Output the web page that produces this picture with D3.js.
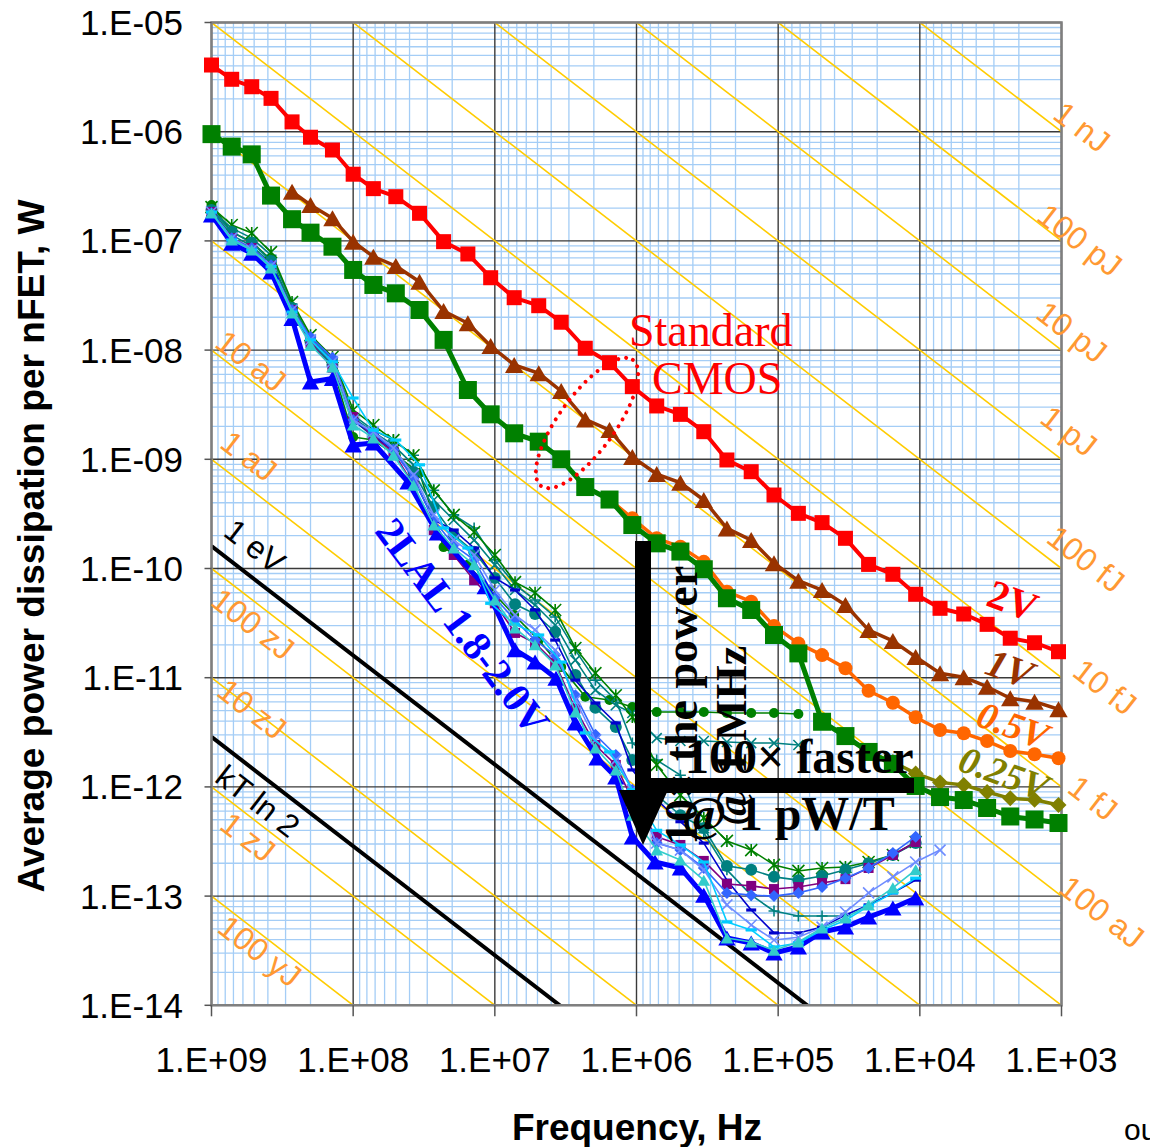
<!DOCTYPE html>
<html><head><meta charset="utf-8">
<script src="https://cdn.jsdelivr.net/npm/d3@7"></script>
<style>body{margin:0;background:#fff} svg{display:block}</style>
</head><body>
<svg id="chart" width="1150" height="1147"></svg>
<script>
// ---------------- DATA ----------------
const xTickValues = [1e9,1e8,1e7,1e6,1e5,1e4,1e3];
const xTickLabels = ["1.E+09","1.E+08","1.E+07","1.E+06","1.E+05","1.E+04","1.E+03"];
const yTickValues = [1e-5,1e-6,1e-7,1e-8,1e-9,1e-10,1e-11,1e-12,1e-13,1e-14];
const yTickLabels = ["1.E-05","1.E-06","1.E-07","1.E-08","1.E-09","1.E-10","1.E-11","1.E-12","1.E-13","1.E-14"];

// constant-energy guide lines (J)
const energyLines = [1e-22,1e-21,1e-20,1e-19,1e-18,1e-17,1e-16,1e-15,1e-14,1e-13,1e-12,1e-11,1e-10,1e-9,1e-8];
const energyLabelsRight = ["1 nJ","100 pJ","10 pJ","1 pJ","100 fJ","10 fJ","1 fJ","100 aJ"];
const energyLabelsLeft = ["10 aJ","1 aJ","100 zJ","10 zJ","1 zJ","100 yJ"];
const limitLines = [1.602e-19, 2.87e-21]; // 1 eV, kT ln 2
const limitLabels = ["1 eV","kT ln 2"];

// Standard CMOS frequencies (Hz)
const freqCMOS = [1e9,7.2e8,5.2e8,3.8e8,2.7e8,2e8,1.4e8,1e8,7.2e7,5e7,3.4e7,2.3e7,1.55e7,1.07e7,7.3e6,4.9e6,3.4e6,2.3e6,1.55e6,1.07e6,7.2e5,4.9e5,3.35e5,2.3e5,1.55e5,1.07e5,7.2e4,4.9e4,3.35e4,2.3e4,1.55e4,1.07e4,7.2e3,4.9e3,3.35e3,2.3e3,1.55e3,1.05e3];
const cmos2V = [4.08e-6,3.02e-6,2.58e-6,2.02e-6,1.23e-6,8.9e-7,6.8e-7,4.08e-7,3.01e-7,2.54e-7,1.79e-7,9.84e-8,7.59e-8,4.6e-8,3.02e-8,2.55e-8,1.8e-8,1.04e-8,7.67e-9,4.63e-9,3.08e-9,2.58e-9,1.79e-9,9.86e-10,7.7e-10,4.71e-10,3.2e-10,2.63e-10,1.89e-10,1.09e-10,8.85e-11,5.81e-11,4.32e-11,3.83e-11,3.08e-11,2.3e-11,2.09e-11,1.73e-11];
const cmos1V = [null,null,null,null,2.82e-7,2.13e-7,1.61e-7,9.84e-8,7.17e-8,5.89e-8,4.23e-8,2.28e-8,1.76e-8,1.09e-8,7.31e-9,6.14e-9,4.22e-9,2.32e-9,1.85e-9,1.05e-9,7.33e-10,6.1e-10,4.24e-10,2.33e-10,1.82e-10,1.12e-10,7.73e-11,6.35e-11,4.63e-11,2.73e-11,2.17e-11,1.55e-11,1.1e-11,1.01e-11,8.27e-12,6.48e-12,6.03e-12,5.14e-12];
const cmos05V = [null,null,null,null,null,null,null,null,null,null,null,null,null,null,null,null,null,null,4.3e-10,2.88e-10,1.89e-10,1.58e-10,1.15e-10,6.13e-11,4.97e-11,2.97e-11,2.06e-11,1.61e-11,1.22e-11,7.6e-12,5.9e-12,4.34e-12,3.32e-12,3.1e-12,2.63e-12,2.13e-12,1.99e-12,1.83e-12];
const cmos025V = [null,null,null,null,null,null,null,null,null,null,null,null,null,null,null,null,null,null,null,null,null,null,null,null,null,null,null,3.94e-12,2.92e-12,2.1e-12,1.69e-12,1.33e-12,1.1e-12,1.04e-12,8.97e-13,7.86e-13,7.63e-13,6.83e-13];
const cmosGreen = [9.5e-7,7.3e-7,6.2e-7,2.6e-7,1.58e-7,1.19e-7,8.85e-8,5.42e-8,3.95e-8,3.31e-8,2.33e-8,1.24e-8,4.31e-9,2.58e-9,1.73e-9,1.45e-9,1.0e-9,5.57e-10,4.28e-10,2.5e-10,1.7e-10,1.43e-10,9.84e-11,5.34e-11,4.17e-11,2.46e-11,1.67e-11,3.95e-12,2.92e-12,2.09e-12,1.62e-12,1.02e-12,8.07e-13,7.58e-13,6.41e-13,5.36e-13,5.03e-13,4.67e-13];

// 2LAL series
const freqLALBlue = [1e9,7.2e8,5.2e8,3.8e8,2.7e8,2e8,1.4e8,1e8,7.2e7,4.1e7,2.55e7,1.17e7,7.2e6,5.2e6,3.7e6,2.7e6,1.9e6,1.4e6,1.07e6,7.4e5,4.9e5,3.35e5,2.3e5,1.55e5,1.07e5,7.2e4,4.9e4,3.35e4,2.3e4,1.55e4,1.07e4];
const lalBlueTri = [1.73e-7,9.5e-8,7.7e-8,5.2e-8,1.95e-8,5.1e-9,5.5e-9,1.35e-9,1.41e-9,6.2e-10,2.11e-10,6.8e-11,1.8e-11,1.39e-11,9.9e-12,3.85e-12,1.84e-12,1.23e-12,3.48e-13,2.05e-13,1.81e-13,1.02e-13,4.13e-14,3.72e-14,3.01e-14,3.42e-14,4.69e-14,5.21e-14,6.43e-14,7.78e-14,9.6e-14];
const freqLAL = [1e9,7.2e8,5.2e8,3.8e8,2.7e8,2e8,1.4e8,1e8,7.2e7,5.2e7,3.75e7,2.7e7,1.95e7,1.4e7,1e7,7.2e6,5.2e6,3.75e6,2.7e6,1.95e6,1.4e6,1.07e6,7.2e5,4.9e5,3.35e5,2.3e5,1.55e5,1.07e5,7.2e4,4.9e4,3.35e4,2.3e4,1.55e4,1.07e4,7.2e3];
const lalStar = [2.04e-7,1.4e-7,1.18e-7,7.9e-8,2.76e-8,1.37e-8,8.65e-9,2.83e-9,2.06e-9,1.5e-9,1.09e-9,5.2e-10,3.1e-10,2.16e-10,1.33e-10,7.5e-11,6.0e-11,4.17e-11,1.87e-11,1.1e-11,6.9e-12,4.37e-12,1.59e-12,8.4e-13,5.2e-13,3.2e-13,2.64e-13,1.93e-13,1.7e-13,1.81e-13,1.85e-13,2.05e-13,2.38e-13,3.13e-13,null];
const lalTealCircle = [1.92e-7,1.21e-7,9.6e-8,6.55e-8,2.43e-8,1.19e-8,7.3e-9,2.29e-9,1.6e-9,1.22e-9,7.65e-10,3.6e-10,2.03e-10,1.42e-10,8.2e-11,4.7e-11,3.83e-11,2.62e-11,1.06e-11,5.3e-12,3.54e-12,1.76e-12,8.4e-13,5.5e-13,4.2e-13,1.89e-13,1.74e-13,1.5e-13,1.4e-13,1.53e-13,1.74e-13,2.0e-13,2.38e-13,3.06e-13,null];
const lalPurple = [1.84e-7,1.06e-7,8.6e-8,5.9e-8,2.33e-8,1.16e-8,6.9e-9,2.44e-9,1.6e-9,1.17e-9,5.8e-10,2.25e-10,1.33e-10,7.8e-11,4.8e-11,2.57e-11,2.08e-11,1.36e-11,5.2e-12,2.42e-12,1.59e-12,7.6e-13,3.5e-13,2.94e-13,2.1e-13,1.29e-13,1.24e-13,1.16e-13,1.21e-13,1.32e-13,1.43e-13,1.81e-13,2.38e-13,3.13e-13,null];
const lalDiamond = [1.8e-7,1.06e-7,8.6e-8,6.0e-8,2.33e-8,1.32e-8,8.5e-9,2.29e-9,1.74e-9,1.22e-9,6.7e-10,2.78e-10,1.64e-10,1.2e-10,5.4e-11,3.37e-11,2.21e-11,1.61e-11,6.9e-12,3.0e-12,1.96e-12,9.4e-13,3.06e-13,2.64e-13,1.81e-13,1.07e-13,1.02e-13,1.0e-13,1.07e-13,1.21e-13,1.46e-13,1.81e-13,2.48e-13,3.5e-13,null];
const lalTurqTri = [1.8e-7,1.02e-7,8.25e-8,5.65e-8,2.19e-8,1.11e-8,7.0e-9,2.06e-9,1.57e-9,1.09e-9,5.8e-10,2.5e-10,1.54e-10,1.08e-10,5.15e-11,2.85e-11,2.0e-11,1.31e-11,4.85e-12,2.27e-12,1.43e-12,5.5e-13,2.64e-13,2.14e-13,1.4e-13,4.13e-14,3.8e-14,3.2e-14,3.8e-14,5.1e-14,6.3e-14,8.3e-14,1.19e-13,1.74e-13,null];
const lalTealPlus = [1.92e-7,1.31e-7,1.06e-7,7.4e-8,2.64e-8,1.29e-8,8.1e-9,2.54e-9,1.85e-9,1.5e-9,1.09e-9,5.2e-10,3.1e-10,2.35e-10,1.2e-10,7.1e-11,5.15e-11,3.6e-11,1.79e-11,9.5e-12,6.25e-12,2.52e-12,1.76e-12,1.28e-12,3.8e-13,1.74e-13,1.02e-13,7.3e-14,6.57e-14,6.57e-14,6.57e-14,null,null,null,null];
const lalDarkBlueDash = [1.84e-7,1.02e-7,8.25e-8,5.8e-8,2.23e-8,1.24e-8,7.8e-9,2.29e-9,1.66e-9,1.22e-9,6.7e-10,2.78e-10,2.25e-10,1.54e-10,8.2e-11,6.35e-11,4.17e-11,2.21e-11,9.5e-12,5.86e-12,3.85e-12,1.43e-12,7.6e-13,4.8e-13,3.06e-13,1.4e-13,7.46e-14,4.6e-14,4.6e-14,5.2e-14,6.7e-14,8.3e-14,1.07e-13,1.4e-13,null];
const lalLightX = [1.84e-7,1.06e-7,8.25e-8,5.9e-8,2.33e-8,1.24e-8,7.8e-9,2.29e-9,1.78e-9,1.27e-9,7.2e-10,3.1e-10,1.82e-10,1.33e-10,6.35e-11,3.75e-11,2.74e-11,1.79e-11,6.25e-12,2.69e-12,1.76e-12,9.4e-13,3.06e-13,2.64e-13,1.74e-13,8.3e-14,5.44e-14,3.96e-14,4.2e-14,5.2e-14,7.15e-14,1.07e-13,1.5e-13,2.05e-13,2.64e-13];
const lalTealX = [1.88e-7,1.13e-7,8.98e-8,6.27e-8,2.38e-8,1.24e-8,7.6e-9,2.39e-9,1.78e-9,1.35e-9,8.9e-10,4.24e-10,2.78e-10,1.82e-10,1.08e-10,6.35e-11,4.63e-11,3.04e-11,1.45e-11,7.7e-12,5.6e-12,4.75e-12,2.8e-12,2.63e-12,2.63e-12,2.58e-12,2.52e-12,2.52e-12,2.42e-12,null,null,null,null,null,null];
const lalGreenCircle = [2.13e-7,1.21e-7,9.77e-8,6.7e-8,2.48e-8,1.19e-8,7.15e-9,1.6e-9,1.5e-9,1.09e-9,7.5e-10,1.57e-10,1.08e-10,6.35e-11,3.75e-11,2.21e-11,1.25e-11,6.7e-12,6.25e-12,5.4e-12,4.85e-12,4.85e-12,4.85e-12,4.75e-12,4.75e-12,4.75e-12,4.65e-12,null,null,null,null,null,null,null,null,null,null,null];
const lalCyanDash = [1.84e-7,1.02e-7,8.25e-8,5.8e-8,2.23e-8,1.24e-8,7.8e-9,3.64e-9,1.85e-9,1.5e-9,8.9e-10,2.35e-10,1.54e-10,4.8e-11,3.1e-11,2.46e-11,1.39e-11,3.12e-12,2.09e-12,9.4e-13,4.0e-13,2.94e-13,2.05e-13,5.8e-14,4.9e-14,3.42e-14,3.72e-14,4.9e-14,6.0e-14,8.1e-14,1.07e-13,1.46e-13,null,null,null,null,null,null];

// ---------------- CHART ----------------
const X0 = 211.5, X1 = 1061.5, Y0 = 22.5, Y1 = 1005.3;
const svg = d3.select('#chart');
const x = d3.scaleLog().domain([1e9,1e3]).range([X0,X1]);
const y = d3.scaleLog().domain([1e-5,1e-14]).range([Y0,Y1]);
const SANS = '"Liberation Sans", Arial, sans-serif';
const SERIF = '"Liberation Serif", "Times New Roman", serif';
const ANG = Math.atan((y(1e-6)-y(1e-5))/(x(1e8)-x(1e9)))*180/Math.PI;

svg.append('defs').append('clipPath').attr('id','plotclip')
  .append('rect').attr('x',X0).attr('y',Y0).attr('width',X1-X0).attr('height',Y1-Y0);

const grid = svg.append('g');
const minorX = [], minorY = [];
for (let e=3;e<9;e++) for (let m=2;m<=9;m++) minorX.push(m*Math.pow(10,e));
for (let e=-14;e<-5;e++) for (let m=2;m<=9;m++) minorY.push(m*Math.pow(10,e));
grid.selectAll('.mx').data(minorX).enter().append('line')
  .attr('x1',d=>x(d)).attr('x2',d=>x(d)).attr('y1',Y0).attr('y2',Y1)
  .attr('stroke','#a4cdf6').attr('stroke-width',1.3);
grid.selectAll('.my').data(minorY).enter().append('line')
  .attr('y1',d=>y(d)).attr('y2',d=>y(d)).attr('x1',X0).attr('x2',X1)
  .attr('stroke','#a4cdf6').attr('stroke-width',1.3);
grid.selectAll('.Mx').data(xTickValues).enter().append('line')
  .attr('x1',d=>x(d)).attr('x2',d=>x(d)).attr('y1',Y0).attr('y2',Y1)
  .attr('stroke','#3a3a3a').attr('stroke-width',1.4);
grid.selectAll('.My').data(yTickValues).enter().append('line')
  .attr('y1',d=>y(d)).attr('y2',d=>y(d)).attr('x1',X0).attr('x2',X1)
  .attr('stroke','#3a3a3a').attr('stroke-width',1.4);

const guides = svg.append('g').attr('clip-path','url(#plotclip)');
guides.selectAll('.en').data(energyLines).enter().append('line')
  .attr('x1',x(1e9)).attr('y1',d=>y(d*1e9)).attr('x2',x(1e3)).attr('y2',d=>y(d*1e3))
  .attr('stroke','#ffcc00').attr('stroke-width',1.6);
guides.selectAll('.lim').data(limitLines).enter().append('line')
  .attr('x1',x(1e9)).attr('y1',d=>y(d*1e9)).attr('x2',x(1e3)).attr('y2',d=>y(d*1e3))
  .attr('stroke','#000').attr('stroke-width',4);

svg.append('rect').attr('x',X0).attr('y',Y0).attr('width',X1-X0).attr('height',Y1-Y0)
  .attr('fill','none').attr('stroke','#7f7f7f').attr('stroke-width',2.5);
svg.selectAll('.xt').data(xTickValues).enter().append('line')
  .attr('x1',d=>x(d)).attr('x2',d=>x(d)).attr('y1',Y1).attr('y2',Y1+11)
  .attr('stroke','#555').attr('stroke-width',1.5);
svg.selectAll('.yt').data(yTickValues).enter().append('line')
  .attr('x1',X0-7).attr('x2',X0).attr('y1',d=>y(d)).attr('y2',d=>y(d))
  .attr('stroke','#555').attr('stroke-width',1.5);

svg.selectAll('.xl').data(xTickValues).enter().append('text')
  .attr('x',d=>x(d)).attr('y',1072).attr('text-anchor','middle')
  .attr('font-family',SANS).attr('font-size',35).attr('fill','#000')
  .text((d,i)=>xTickLabels[i]);
svg.selectAll('.yl').data(yTickValues).enter().append('text')
  .attr('x',183).attr('y',d=>y(d)+12.5).attr('text-anchor','end')
  .attr('font-family',SANS).attr('font-size',35).attr('fill','#000')
  .text((d,i)=>yTickLabels[i]);

svg.append('text').attr('transform','translate(44,546) rotate(-90)')
  .attr('text-anchor','middle').attr('font-family',SANS).attr('font-weight','bold')
  .attr('font-size',36).attr('textLength',693).attr('lengthAdjust','spacingAndGlyphs')
  .text('Average power dissipation per nFET, W');
svg.append('text').attr('x',637).attr('y',1140).attr('text-anchor','middle')
  .attr('font-family',SANS).attr('font-weight','bold').attr('font-size',37)
  .text('Frequency, Hz');
svg.append('text').attr('x',1124).attr('y',1140).attr('font-family',SANS)
  .attr('font-size',30).text('ou');

const rightLabelPos = [[1082,127],[1080,240],[1072,332],[1069,431],[1086,559],[1105,687],[1093,798],[1102,912]];
const leftLabelPos = [[251,361],[249,456],[253,624],[252,709],[248,837],[260,951]];
function rotLabel(g, txt, p, color, size, weight, family, ang, style){
  g.append('text').attr('transform',`translate(${p[0]},${p[1]}) rotate(${ang})`)
   .attr('text-anchor','middle').attr('dy','0.35em')
   .attr('font-family',family).attr('font-size',size).attr('font-weight',weight||'normal')
   .attr('font-style',style||'normal').attr('fill',color).text(txt);
}
const lab = svg.append('g');
energyLabelsRight.forEach((t,i)=>rotLabel(lab,t,rightLabelPos[i],'#ff9933',32,'normal',SANS,ANG));
energyLabelsLeft.forEach((t,i)=>rotLabel(lab,t,leftLabelPos[i],'#ff9933',32,'normal',SANS,ANG));
rotLabel(lab,limitLabels[0],[255,546],'#000',32,'normal',SANS,ANG);
rotLabel(lab,limitLabels[1],[258,801],'#000',32,'normal',SANS,ANG);

function marker(g, type, cx, cy, s, color){
  const h = s/2;
  if (type==='square') g.append('rect').attr('x',cx-h).attr('y',cy-h).attr('width',s).attr('height',s).attr('fill',color);
  else if (type==='triangle') g.append('path').attr('d',`M${cx},${cy-h}L${cx+h*1.15},${cy+h}L${cx-h*1.15},${cy+h}Z`).attr('fill',color);
  else if (type==='circle') g.append('circle').attr('cx',cx).attr('cy',cy).attr('r',h).attr('fill',color);
  else if (type==='diamond') g.append('path').attr('d',`M${cx},${cy-h}L${cx+h},${cy}L${cx},${cy+h}L${cx-h},${cy}Z`).attr('fill',color);
  else if (type==='x') g.append('path').attr('d',`M${cx-h},${cy-h}L${cx+h},${cy+h}M${cx-h},${cy+h}L${cx+h},${cy-h}`).attr('stroke',color).attr('stroke-width',1.6).attr('fill','none');
  else if (type==='star') g.append('path').attr('d',`M${cx-h},${cy-h}L${cx+h},${cy+h}M${cx-h},${cy+h}L${cx+h},${cy-h}M${cx},${cy-h}L${cx},${cy+h}`).attr('stroke',color).attr('stroke-width',1.6).attr('fill','none');
  else if (type==='plus') g.append('path').attr('d',`M${cx-h},${cy}L${cx+h},${cy}M${cx},${cy-h}L${cx},${cy+h}`).attr('stroke',color).attr('stroke-width',1.6).attr('fill','none');
  else if (type==='dash') g.append('path').attr('d',`M${cx-h},${cy}L${cx+h},${cy}`).attr('stroke',color).attr('stroke-width',3.2).attr('fill','none');
}
function series(freqs, vals, color, width, mtype, msize){
  const pts = freqs.map((f,i)=>[f, vals[i]]).filter(d=>d[1]!=null);
  const g = svg.append('g');
  g.append('path').datum(pts).attr('fill','none').attr('stroke',color).attr('stroke-width',width)
   .attr('stroke-linejoin','round')
   .attr('d', d3.line().x(d=>x(d[0])).y(d=>y(d[1])));
  pts.forEach(d=>marker(g, mtype, x(d[0]), y(d[1]), msize, color));
}

// 2LAL series
series(freqCMOS, lalGreenCircle, '#008000', 1.6, 'circle', 10);
series(freqLAL, lalTealX, '#008080', 1.6, 'x', 10);
series(freqLAL, lalTealPlus, '#008080', 1.6, 'plus', 11);
series(freqLAL, lalStar, '#008000', 1.6, 'star', 12);
series(freqLAL, lalTealCircle, '#008080', 1.6, 'circle', 12);
series(freqLAL, lalDarkBlueDash, '#0000cc', 1.6, 'dash', 10);
series(freqLAL, lalPurple, '#800080', 1.6, 'square', 10);
series(freqLAL, lalDiamond, '#3366ff', 1.6, 'diamond', 12);
series(freqLAL, lalLightX, '#6f8cff', 1.6, 'x', 11);
series(freqLALBlue, lalBlueTri, '#0000ff', 5, 'triangle', 15);
series(freqCMOS, lalCyanDash, '#00ccff', 1.6, 'dash', 11);
series(freqLAL, lalTurqTri, '#33cccc', 1.6, 'triangle', 11);

// Standard CMOS
series(freqCMOS, cmos05V, '#ff6600', 3.5, 'circle', 14);
series(freqCMOS, cmos025V, '#808000', 3.5, 'diamond', 16);
series(freqCMOS, cmosGreen, '#008000', 5, 'square', 18);
series(freqCMOS, cmos1V, '#993300', 3.5, 'triangle', 16);
series(freqCMOS, cmos2V, '#ff0000', 4, 'square', 15);

svg.append('ellipse').attr('cx',587).attr('cy',423).attr('rx',78).attr('ry',28)
  .attr('transform','rotate(-54,587,423)').attr('fill','none').attr('stroke','#ff0000')
  .attr('stroke-width',4).attr('stroke-dasharray','0 8').attr('stroke-linecap','round');

const ann = svg.append('g');
ann.append('text').attr('x',629).attr('y',346).attr('font-family',SERIF).attr('font-size',46).attr('fill','#ff0000').text('Standard');
ann.append('text').attr('x',652).attr('y',394).attr('font-family',SERIF).attr('font-size',46).attr('fill','#ff0000').text('CMOS');
rotLabel(ann,'2LAL 1.8-2.0V',[463,626],'#0000ff',41,'bold',SERIF,53);
rotLabel(ann,'2V',[1013,600],'#ff0000',41,'bold',SERIF,20);
rotLabel(ann,'1V',[1010,668],'#993300',40,'bold',SERIF,20,'italic');
rotLabel(ann,'0.5V',[1013,725],'#ff6600',38,'bold',SERIF,20,'italic');
rotLabel(ann,'0.25V',[1004,773],'#808000',38,'bold',SERIF,20,'italic');

ann.append('rect').attr('x',635).attr('y',541).attr('width',16).attr('height',252).attr('fill','#000');
ann.append('path').attr('d','M619,790L668,790L643,845Z').attr('fill','#000');
ann.append('rect').attr('x',640).attr('y',778).attr('width',274).attr('height',15).attr('fill','#000');

ann.append('text').attr('transform','translate(697,845) rotate(-90)').attr('font-family',SERIF).attr('font-weight','bold').attr('font-size',46).text('10\u00d7 the power');
ann.append('text').attr('transform','translate(746,826) rotate(-90)').attr('font-family',SERIF).attr('font-weight','bold').attr('font-size',44).text('@ 1 MHz');
ann.append('text').attr('x',685).attr('y',773).attr('font-family',SERIF).attr('font-weight','bold').attr('font-size',48).text('100\u00d7 faster');
ann.append('text').attr('x',682).attr('y',830).attr('font-family',SERIF).attr('font-weight','bold').attr('font-size',48).text('@ 1 pW/T');
</script>
</body></html>
